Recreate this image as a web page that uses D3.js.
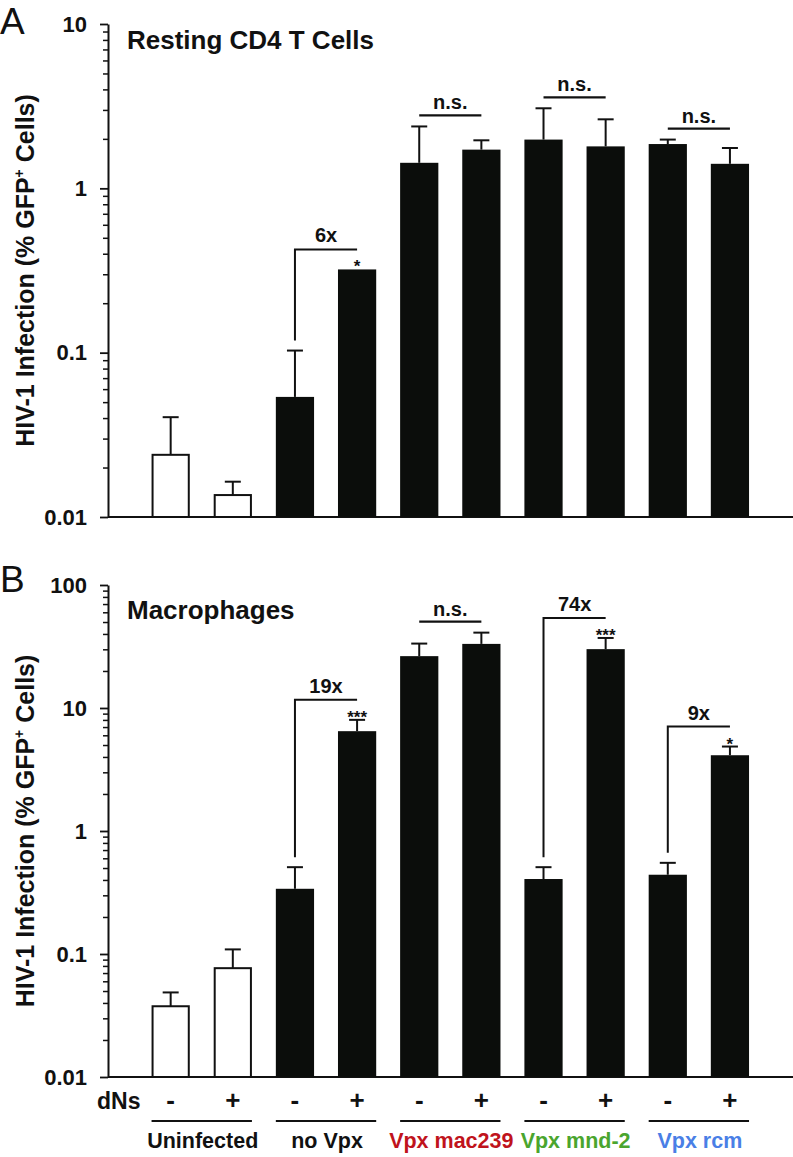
<!DOCTYPE html>
<html>
<head>
<meta charset="utf-8">
<script src="https://cdn.jsdelivr.net/npm/d3@7"></script>
<style>
  html, body { margin: 0; padding: 0; background: #fff; }
  svg { display: block; }
  text { font-family: "Liberation Sans", Arial, Helvetica, sans-serif; font-weight: bold; fill: #111; }
  text.letter { font-weight: normal; }
</style>
</head>
<body>
<svg id="chart" width="793" height="1157"></svg>
<script>
// ---------------- DATA ----------------
const groups = ["Uninfected", "no Vpx", "Vpx mac239", "Vpx mnd-2", "Vpx rcm"];
const dNs = ["-", "+", "-", "+", "-", "+", "-", "+", "-", "+"];
const barGroup = [0, 0, 1, 1, 2, 2, 3, 3, 4, 4];

// Panel A: Resting CD4 T cells (% GFP+ cells), mean and top of error bar
const restingMean = [0.0239, 0.0136, 0.0538, 0.321, 1.43, 1.72, 1.98, 1.80, 1.86, 1.41];
const restingErr  = [0.0405, 0.0164, 0.103, 0.321, 2.38, 1.96, 3.07, 2.63, 1.98, 1.76];
const restingTicks = [0.01, 0.1, 1, 10];
const restingComparisons = [
  { left: 2, right: 3, label: "6x", stars: "*" },
  { left: 4, right: 5, label: "n.s.", stars: "" },
  { left: 6, right: 7, label: "n.s.", stars: "" },
  { left: 8, right: 9, label: "n.s.", stars: "" }
];

// Panel B: Macrophages
const macroMean = [0.0376, 0.0767, 0.339, 6.48, 26.4, 33.2, 0.407, 30.1, 0.441, 4.13];
const macroErr  = [0.0487, 0.109, 0.508, 8.01, 33.4, 41.0, 0.508, 37.1, 0.551, 4.86];
const macroTicks = [0.01, 0.1, 1, 10, 100];
const macroComparisons = [
  { left: 2, right: 3, label: "19x", stars: "***" },
  { left: 4, right: 5, label: "n.s.", stars: "" },
  { left: 6, right: 7, label: "74x", stars: "***" },
  { left: 8, right: 9, label: "9x", stars: "*" }
];

// ---------------- STYLE ----------------
const groupColors = ["#111111", "#111111", "#c0131c", "#4aa52e", "#4a7fe6"];
const ink = "#111";
const barInk = "#0b0d0b";

const svg = d3.select("#chart");

const x = d3.scaleBand()
  .domain(d3.range(dNs.length))
  .range([139.6, 761])
  .paddingInner(0.385)
  .paddingOuter(0.1925);

const axisX = 108;
const rightEdge = 793;

function minorTicks(domain) {
  const out = [];
  const lo = Math.round(Math.log10(domain[0])), hi = Math.round(Math.log10(domain[1]));
  for (let e = lo; e < hi; e++) {
    for (let m = 2; m <= 9; m++) out.push(m * Math.pow(10, e));
  }
  return out;
}

function drawPanel(cfg) {
  const g = svg.append("g");
  const y = d3.scaleLog().domain([cfg.ticks[0], cfg.ticks[cfg.ticks.length - 1]]).range([cfg.bottom, cfg.top]);

  // minor ticks
  g.append("g")
    .attr("transform", `translate(${axisX},0)`)
    .call(d3.axisLeft(y).tickValues(minorTicks(y.domain())).tickSize(5).tickFormat(""))
    .call(s => s.select(".domain").remove())
    .call(s => s.selectAll("line").attr("stroke", ink).attr("stroke-width", 1.5));

  // major ticks + labels
  g.append("g")
    .attr("transform", `translate(${axisX},0)`)
    .call(d3.axisLeft(y).tickValues(cfg.ticks).tickFormat(d => String(d)).tickSize(8).tickSizeOuter(0).tickPadding(13))
    .call(s => s.select(".domain").attr("stroke", ink).attr("stroke-width", 2))
    .call(s => s.selectAll("line").attr("stroke", ink).attr("stroke-width", 1.8))
    .call(s => s.selectAll("text")
      .attr("font-size", 22).attr("font-weight", "bold")
      .attr("font-family", '"Liberation Sans", Arial, sans-serif').attr("fill", ink));

  // x baseline
  g.append("line")
    .attr("x1", axisX).attr("x2", rightEdge)
    .attr("y1", y.range()[0]).attr("y2", y.range()[0])
    .attr("stroke", ink).attr("stroke-width", 2);

  // error bars
  const eb = g.append("g").attr("stroke", ink).attr("stroke-width", 2);
  cfg.mean.forEach((m, i) => {
    if (cfg.err[i] <= m) return;
    const cx = x(i) + x.bandwidth() / 2;
    eb.append("line").attr("x1", cx).attr("x2", cx).attr("y1", y(m)).attr("y2", y(cfg.err[i]));
    eb.append("line").attr("x1", cx - 8).attr("x2", cx + 8).attr("y1", y(cfg.err[i])).attr("y2", y(cfg.err[i]));
  });

  // bars
  g.append("g").selectAll("rect")
    .data(cfg.mean)
    .join("rect")
    .attr("x", (d, i) => barGroup[i] === 0 ? x(i) + 1 : x(i))
    .attr("width", (d, i) => barGroup[i] === 0 ? x.bandwidth() - 2 : x.bandwidth())
    .attr("y", d => y(d))
    .attr("height", d => y.range()[0] - y(d))
    .attr("fill", (d, i) => barGroup[i] === 0 ? "#fff" : barInk)
    .attr("stroke", (d, i) => barGroup[i] === 0 ? ink : "none")
    .attr("stroke-width", 2);

  // comparisons
  const cg = g.append("g");
  cfg.comparisons.forEach(c => {
    const lx = x(c.left) + x.bandwidth() / 2;
    const rx = x(c.right) + x.bandwidth() / 2;
    const capL = y(Math.max(cfg.err[c.left], cfg.mean[c.left]));
    const capR = y(Math.max(cfg.err[c.right], cfg.mean[c.right]));
    if (c.label === "n.s.") {
      const ly = Math.min(capL, capR) - 11;
      cg.append("line").attr("x1", lx).attr("x2", rx).attr("y1", ly).attr("y2", ly)
        .attr("stroke", ink).attr("stroke-width", 2.2);
      cg.append("text").attr("x", (lx + rx) / 2).attr("y", ly - 6)
        .attr("text-anchor", "middle").attr("font-size", 20).text(c.label);
    } else {
      const ly = Math.min(capL, capR) - 20;
      cg.append("path")
        .attr("d", `M${lx},${capL - 10}V${ly}H${rx}`)
        .attr("fill", "none").attr("stroke", ink).attr("stroke-width", 2);
      cg.append("text").attr("x", (lx + rx) / 2).attr("y", ly - 7)
        .attr("text-anchor", "middle").attr("font-size", 20).text(c.label);
      if (c.stars) {
        cg.append("text").attr("x", rx).attr("y", capR + 3)
          .attr("text-anchor", "middle").attr("font-size", 17).text(c.stars);
      }
    }
  });

  // panel title
  g.append("text").attr("x", 127).attr("y", cfg.titleY).attr("font-size", 25)
    .attr("transform", `translate(127,${cfg.titleY}) scale(1.04,1) translate(-127,${-cfg.titleY})`)
    .text(cfg.title);

  // panel letter
  g.append("text").attr("class", "letter").attr("x", 0).attr("y", cfg.letterY)
    .attr("font-size", 37).text(cfg.letter);

  // y-axis title
  const cy = (y.range()[0] + y.range()[1]) / 2;
  const yt = g.append("text")
    .attr("transform", `translate(34,${cy}) rotate(-90)`)
    .attr("text-anchor", "middle").attr("font-size", 25);
  yt.append("tspan").text("HIV-1 Infection (% GFP");
  yt.append("tspan").attr("font-size", 14).attr("dy", "-0.7em").text("+");
  yt.append("tspan").attr("dy", "0.39em").text(" Cells)");

  return y;
}

drawPanel({
  mean: restingMean, err: restingErr, ticks: restingTicks, comparisons: restingComparisons,
  top: 24, bottom: 517, title: "Resting CD4 T Cells", titleY: 49, letter: "A", letterY: 34
});

drawPanel({
  mean: macroMean, err: macroErr, ticks: macroTicks, comparisons: macroComparisons,
  top: 585, bottom: 1077, title: "Macrophages", titleY: 619, letter: "B", letterY: 592
});

// ---------------- x labels (bottom panel) ----------------
const lab = svg.append("g");
lab.append("text").attr("x", 97).attr("y", 1109).attr("font-size", 23).text("dNs");
lab.selectAll("text.dn")
  .data(dNs)
  .join("text")
  .attr("class", "dn")
  .attr("x", (d, i) => x(i) + x.bandwidth() / 2)
  .attr("y", 1109)
  .attr("text-anchor", "middle")
  .attr("font-size", 26)
  .text(d => d);

groups.forEach((gname, gi) => {
  const idx = barGroup.map((b, i) => b === gi ? i : -1).filter(i => i >= 0);
  const x0 = x(idx[0]), x1 = x(idx[idx.length - 1]) + x.bandwidth();
  lab.append("line").attr("x1", x0).attr("x2", x1).attr("y1", 1121).attr("y2", 1121)
    .attr("stroke", ink).attr("stroke-width", 2);
  lab.append("text").attr("x", (x0 + x1) / 2 + 1).attr("y", 1148)
    .attr("text-anchor", "middle").attr("font-size", 21.5)
    .style("fill", groupColors[gi]).text(gname);
});
</script>
</body>
</html>
